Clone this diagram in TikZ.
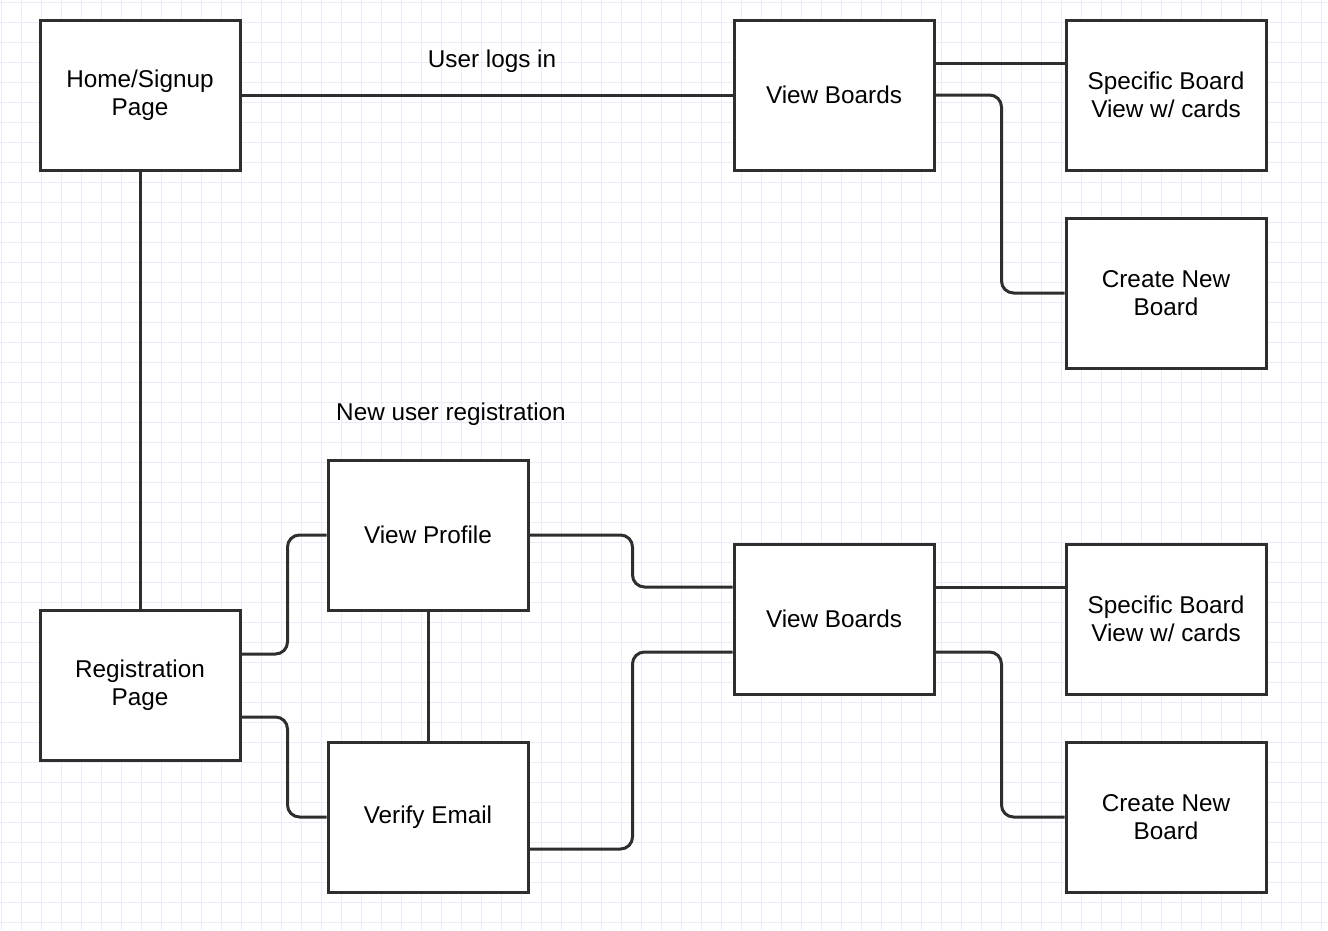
\documentclass[tikz,border=0pt]{standalone}
\usepackage{fontspec}
\setmainfont{Liberation Sans}
\definecolor{gridc}{HTML}{ECECF8}
\definecolor{linec}{HTML}{2E2E2E}
\begin{document}
\begin{tikzpicture}[x=1pt,y=-1pt,
  box/.style={draw=linec,line width=3pt,fill=white,minimum width=200pt,minimum height=150pt,inner sep=0pt,align=center,font=\fontsize{24.3}{28}\selectfont},
  conn/.style={draw=linec,line width=3pt,rounded corners=12pt},
  lbl/.style={inner sep=0pt,font=\fontsize{24.3}{28}\selectfont}]
\useasboundingbox (0,0) rectangle (1328,930);
\fill[white] (0,0) rectangle (1328,930);
\foreach \i in {0,...,66} \draw[gridc,line width=1pt] (1+20*\i,0) -- (1+20*\i,930);
\foreach \j in {0,...,46} \draw[gridc,line width=1pt] (0,2+20*\j) -- (1328,2+20*\j);
% nodes
\node[box] (home) at (140,95) {Home/Signup\\Page};
\node[box] (vb1) at (834,95) {View Boards};
\node[box] (sp1) at (1166,95) {Specific Board\\View w/ cards};
\node[box] (cr1) at (1166,293) {Create New\\Board};
\node[box] (vp) at (428,535) {View Profile};
\node[box] (reg) at (140,685) {Registration\\Page};
\node[box] (ve) at (428,817) {Verify Email};
\node[box] (vb2) at (834,619) {View Boards};
\node[box] (sp2) at (1166,619) {Specific Board\\View w/ cards};
\node[box] (cr2) at (1166,817) {Create New\\Board};
\node[lbl] (l1) at (492,61) {User logs in};
\node[lbl] (l2) at (451,414) {New user registration};
% connectors
\draw[conn] (home.east) -- (vb1.west);
\draw[conn] (home.south) -- (reg.north);
\draw[conn] ([yshift=32pt]vb1.east) coordinate (a1) -- (a1 -| sp1.west);
\draw[conn] (vb1.east) -- ++(66,0) |- (cr1.west);
\draw[conn] ([yshift=31pt]reg.east) -- ++(46,0) |- (vp.west);
\draw[conn] ([yshift=-32pt]reg.east) -- ++(46,0) |- (ve.west);
\draw[conn] (vp.south) -- (ve.north);
\draw[conn] (vp.east) -- ++(103,0) |- ([yshift=32pt]vb2.west);
\draw[conn] ([yshift=-32pt]ve.east) -- ++(103,0) |- ([yshift=-33pt]vb2.west);
\draw[conn] ([yshift=32pt]vb2.east) coordinate (a2) -- (a2 -| sp2.west);
\draw[conn] ([yshift=-33pt]vb2.east) -- ++(66,0) |- (cr2.west);
\end{tikzpicture}
\end{document}
